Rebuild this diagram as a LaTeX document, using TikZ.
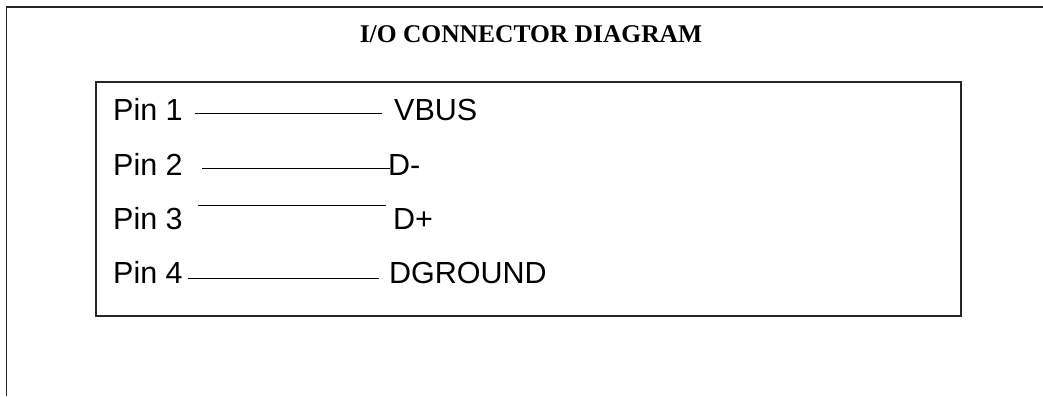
\documentclass[tikz,border=0pt]{standalone}
\usepackage{fontspec}
\setmainfont{Liberation Sans}
\newfontfamily\titlefont{Liberation Serif}
\begin{document}
\begin{tikzpicture}[x=1pt,y=-1pt,
  frame/.style={draw=black!85,line width=1.6pt},
  box/.style={draw=black!85,line width=1.3pt},
  wire/.style={draw=black,line width=1pt},
  pinlbl/.style={anchor=base west,inner sep=0pt,font=\fontsize{30.5}{32}\selectfont},
  sig/.style={anchor=base west,inner sep=0pt,font=\fontsize{30.5}{32}\selectfont},
  ttl/.style={anchor=base,inner sep=0pt,font=\titlefont\bfseries\fontsize{25.5}{27}\selectfont}]
\useasboundingbox (0,0) rectangle (1043,396);
\fill[white] (0,0) rectangle (1043,396);
\draw[frame] (6.5,396) -- (6.5,7) -- (1043,7);
\node[ttl] (title) at (531,42.5) {I/O CONNECTOR DIAGRAM};
\draw[box] (96,82) rectangle (961,316);
\node[pinlbl] (p1) at (113,120.5) {Pin 1};
\node[pinlbl] (p2) at (113,175) {Pin 2};
\node[pinlbl] (p3) at (113,229) {Pin 3};
\node[pinlbl] (p4) at (113,283) {Pin 4};
\node[sig] (s1) at (394,120.5) {VBUS};
\node[sig] (s2) at (388,175) {D-};
\node[sig] (s3) at (393,229) {D+};
\node[sig] (s4) at (389,283) {DGROUND};
\coordinate (a1) at (195,113); \coordinate (b1) at (382,113);
\coordinate (a2) at (202,168); \coordinate (b2) at (390,168);
\coordinate (a3) at (198,205); \coordinate (b3) at (386,205);
\coordinate (a4) at (188,278); \coordinate (b4) at (379,278);
\draw[wire] (a1) -- (b1);
\draw[wire] (a2) -- (b2);
\draw[wire] (a3) -- (b3);
\draw[wire] (a4) -- (b4);
\end{tikzpicture}
\end{document}
